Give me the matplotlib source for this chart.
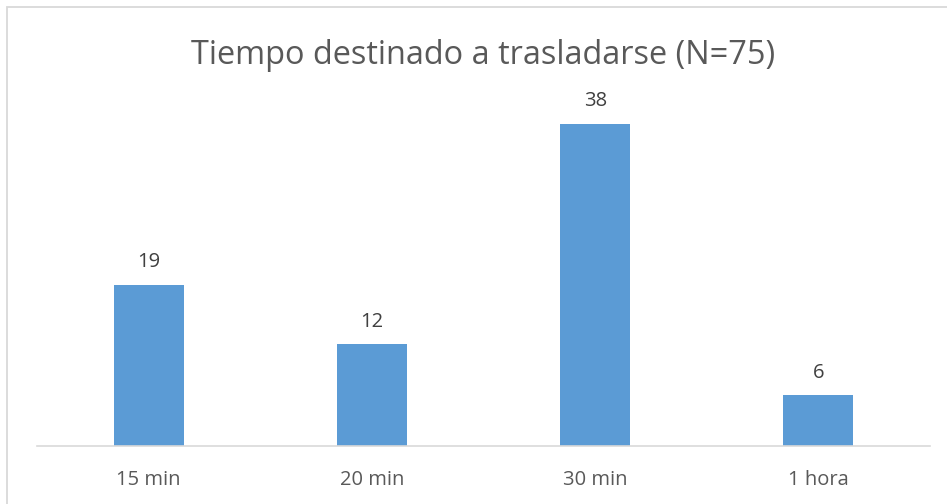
import matplotlib.pyplot as plt
from matplotlib.patches import Rectangle

# --- Data ---
categories = ['15 min', '20 min', '30 min', '1 hora']
values = [19, 12, 38, 6]
title = 'Tiempo destinado a trasladarse (N=75)'

BAR_COLOR = '#5B9BD5'
TEXT_COLOR = '#595959'
W, H = 947, 504

plt.rcParams['font.family'] = ['Open Sans', 'DejaVu Sans']

fig = plt.figure(figsize=(W / 100, H / 100), dpi=100)
# plot area in pixels: x 37..930, baseline at y=446, top at 40 units
ax = fig.add_axes([37 / W, (H - 446) / H, 893 / W, (446 - 107) / H])

x = range(len(categories))
bars = ax.bar(x, values, width=0.314, color=BAR_COLOR)
ax.set_xlim(-0.5, len(categories) - 0.5)
ax.set_ylim(0, 40)

for b, v in zip(bars, values):
    ax.annotate(str(v), (b.get_x() + b.get_width() / 2, v), xytext=(0, 9),
                textcoords='offset points', ha='center', va='bottom',
                fontsize=14.5, color='#404040')

ax.set_xticks(list(x))
ax.set_xticklabels(categories, fontsize=14.5, color=TEXT_COLOR)
ax.tick_params(axis='x', length=0, pad=17.5)
ax.set_yticks([])
for side in ['top', 'right', 'left']:
    ax.spines[side].set_visible(False)
ax.spines['bottom'].set_color('#D9D9D9')
ax.spines['bottom'].set_linewidth(1.2)

fig.text(483 / W, 1 - 55 / H, title, ha='center', va='center',
         fontsize=23.4, color=TEXT_COLOR)

# chart border
fig.patches.append(Rectangle((6.5 / W, -0.1), 1.2, 1 - 7.5 / H + 0.1,
                             transform=fig.transFigure, fill=False,
                             edgecolor='#D9D9D9', linewidth=1.3))

fig.savefig('out.png', dpi=100)
